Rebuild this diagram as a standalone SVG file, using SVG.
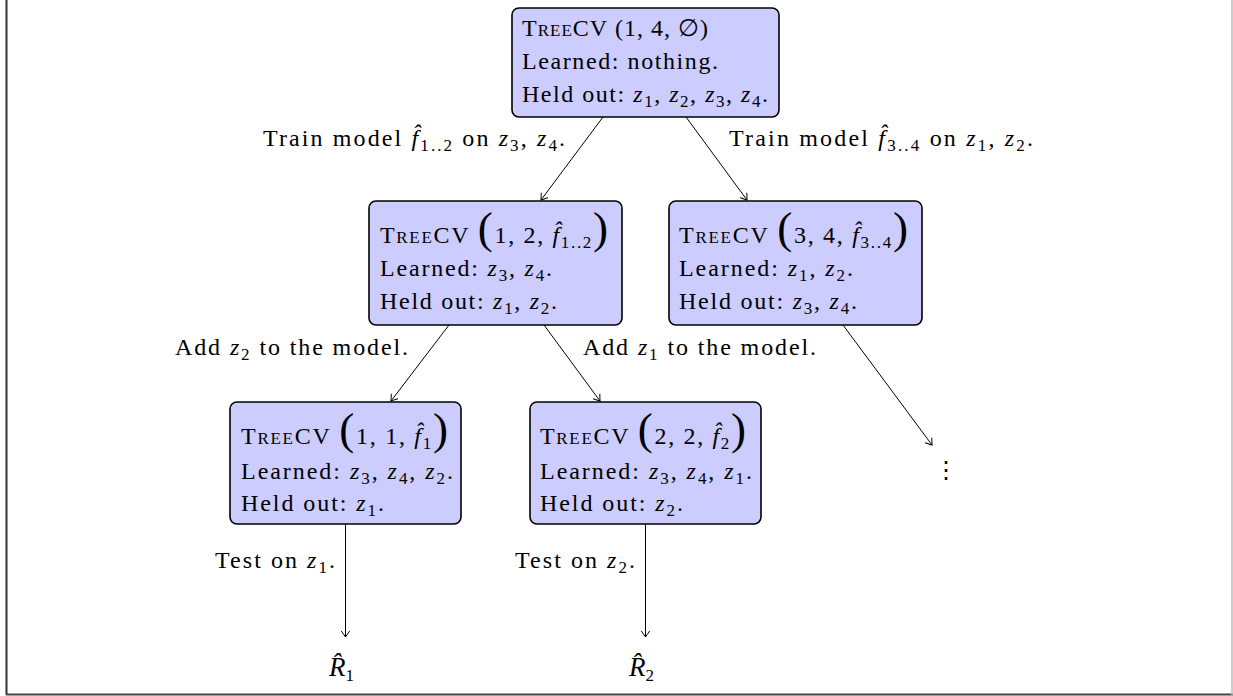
<svg xmlns="http://www.w3.org/2000/svg" width="1233" height="696" viewBox="0 0 1233 696">
<style>
text{font-family:"Liberation Serif","DejaVu Serif",serif;font-size:24px;fill:#000}
.sc{font-variant:small-caps}
.m{font-style:italic}
.s{font-size:17px}
.p{font-size:45px}
.big{font-size:27px}
.box{fill:#ccccff;stroke:#000;stroke-width:1.6}
.edge{fill:none;stroke:#000;stroke-width:1;marker-end:url(#arr)}
.sym{font-family:"DejaVu Serif",serif}
</style>
<defs>
<marker id="arr" markerUnits="userSpaceOnUse" markerWidth="12" markerHeight="12" refX="0" refY="0" viewBox="-7 -6 9 12" orient="auto">
<path d="M-6,-4.2 Q-1.5,-1 0,0 Q-1.5,1 -6,4.2" fill="none" stroke="#000" stroke-width="1"/>
</marker>
</defs>
<rect width="1233" height="696" fill="#fff"/>
<g id="frame">
<line x1="6.5" y1="0" x2="6.5" y2="695" stroke="#333" stroke-width="2"/>
<line x1="6" y1="694.5" x2="1233" y2="694.5" stroke="#444" stroke-width="2"/>
<line x1="1232" y1="0" x2="1232" y2="695" stroke="#bbb" stroke-width="1.5"/>
</g>
<g id="connectors">
<line class="edge" x1="603" y1="117" x2="541" y2="200"/>
<line class="edge" x1="686" y1="117" x2="747" y2="200"/>
<line class="edge" x1="449" y1="325" x2="391" y2="401"/>
<line class="edge" x1="544" y1="325" x2="600" y2="401"/>
<line class="edge" x1="843" y1="325" x2="932" y2="445"/>
<line class="edge" x1="345.5" y1="524" x2="345.5" y2="637"/>
<line class="edge" x1="645.5" y1="524" x2="645.5" y2="637"/>
</g>
<g id="edge-labels">
<text x="263" y="146" textLength="302">Train model <tspan class="m">f̂</tspan><tspan class="s" dy="5">1..2</tspan><tspan dy="-5"> on </tspan><tspan class="m">z</tspan><tspan class="s" dy="5">3</tspan><tspan dy="-5">, </tspan><tspan class="m">z</tspan><tspan class="s" dy="5">4</tspan><tspan dy="-5">.</tspan></text>
<text x="729" y="146" textLength="304">Train model <tspan class="m">f̂</tspan><tspan class="s" dy="5">3..4</tspan><tspan dy="-5"> on </tspan><tspan class="m">z</tspan><tspan class="s" dy="5">1</tspan><tspan dy="-5">, </tspan><tspan class="m">z</tspan><tspan class="s" dy="5">2</tspan><tspan dy="-5">.</tspan></text>
<text x="175" y="355" textLength="233">Add <tspan class="m">z</tspan><tspan class="s" dy="5">2</tspan><tspan dy="-5"> to the model.</tspan></text>
<text x="583" y="355" textLength="233">Add <tspan class="m">z</tspan><tspan class="s" dy="5">1</tspan><tspan dy="-5"> to the model.</tspan></text>
<text x="215" y="568" textLength="120">Test on <tspan class="m">z</tspan><tspan class="s" dy="5">1</tspan><tspan dy="-5">.</tspan></text>
<text x="515" y="568" textLength="120">Test on <tspan class="m">z</tspan><tspan class="s" dy="5">2</tspan><tspan dy="-5">.</tspan></text>
</g>
<g id="n-root">
<rect class="box" x="512" y="8" width="267" height="109" rx="7"/>
<text x="522" y="36" textLength="186"><tspan class="sc">TreeCV</tspan> (1, 4, <tspan class="sym">∅</tspan>)</text>
<text x="522" y="69" textLength="196">Learned: nothing.</text>
<text x="522" y="102" textLength="246">Held out: <tspan class="m">z</tspan><tspan class="s" dy="5">1</tspan><tspan dy="-5">, </tspan><tspan class="m">z</tspan><tspan class="s" dy="5">2</tspan><tspan dy="-5">, </tspan><tspan class="m">z</tspan><tspan class="s" dy="5">3</tspan><tspan dy="-5">, </tspan><tspan class="m">z</tspan><tspan class="s" dy="5">4</tspan><tspan dy="-5">.</tspan></text>
</g>
<g id="n-12">
<rect class="box" x="369" y="201" width="253" height="124" rx="7"/>
<text x="380" y="243" textLength="228"><tspan class="sc">TreeCV</tspan> <tspan class="p">(</tspan>1, 2, <tspan class="m">f̂</tspan><tspan class="s" dy="5">1..2</tspan><tspan class="p" dy="-5">)</tspan></text>
<text x="380" y="276" textLength="172">Learned: <tspan class="m">z</tspan><tspan class="s" dy="5">3</tspan><tspan dy="-5">, </tspan><tspan class="m">z</tspan><tspan class="s" dy="5">4</tspan><tspan dy="-5">.</tspan></text>
<text x="380" y="309" textLength="177">Held out: <tspan class="m">z</tspan><tspan class="s" dy="5">1</tspan><tspan dy="-5">, </tspan><tspan class="m">z</tspan><tspan class="s" dy="5">2</tspan><tspan dy="-5">.</tspan></text>
</g>
<g id="n-34">
<rect class="box" x="669" y="201" width="253" height="124" rx="7"/>
<text x="679" y="243" textLength="229"><tspan class="sc">TreeCV</tspan> <tspan class="p">(</tspan>3, 4, <tspan class="m">f̂</tspan><tspan class="s" dy="5">3..4</tspan><tspan class="p" dy="-5">)</tspan></text>
<text x="679" y="276" textLength="174">Learned: <tspan class="m">z</tspan><tspan class="s" dy="5">1</tspan><tspan dy="-5">, </tspan><tspan class="m">z</tspan><tspan class="s" dy="5">2</tspan><tspan dy="-5">.</tspan></text>
<text x="679" y="309" textLength="178">Held out: <tspan class="m">z</tspan><tspan class="s" dy="5">3</tspan><tspan dy="-5">, </tspan><tspan class="m">z</tspan><tspan class="s" dy="5">4</tspan><tspan dy="-5">.</tspan></text>
</g>
<g id="n-11">
<rect class="box" x="230" y="402" width="231" height="122" rx="7"/>
<text x="241" y="444" textLength="207"><tspan class="sc">TreeCV</tspan> <tspan class="p">(</tspan>1, 1, <tspan class="m">f̂</tspan><tspan class="s" dy="5">1</tspan><tspan class="p" dy="-5">)</tspan></text>
<text x="241" y="479" textLength="212">Learned: <tspan class="m">z</tspan><tspan class="s" dy="5">3</tspan><tspan dy="-5">, </tspan><tspan class="m">z</tspan><tspan class="s" dy="5">4</tspan><tspan dy="-5">, </tspan><tspan class="m">z</tspan><tspan class="s" dy="5">2</tspan><tspan dy="-5">.</tspan></text>
<text x="241" y="511" textLength="143">Held out: <tspan class="m">z</tspan><tspan class="s" dy="5">1</tspan><tspan dy="-5">.</tspan></text>
</g>
<g id="n-22">
<rect class="box" x="530" y="402" width="231" height="122" rx="7"/>
<text x="540" y="444" textLength="206"><tspan class="sc">TreeCV</tspan> <tspan class="p">(</tspan>2, 2, <tspan class="m">f̂</tspan><tspan class="s" dy="5">2</tspan><tspan class="p" dy="-5">)</tspan></text>
<text x="540" y="479" textLength="212">Learned: <tspan class="m">z</tspan><tspan class="s" dy="5">3</tspan><tspan dy="-5">, </tspan><tspan class="m">z</tspan><tspan class="s" dy="5">4</tspan><tspan dy="-5">, </tspan><tspan class="m">z</tspan><tspan class="s" dy="5">1</tspan><tspan dy="-5">.</tspan></text>
<text x="540" y="511" textLength="143">Held out: <tspan class="m">z</tspan><tspan class="s" dy="5">2</tspan><tspan dy="-5">.</tspan></text>
</g>
<g id="n-r1">
<text x="329" y="676"><tspan class="m big">R̂</tspan><tspan class="s" dy="5">1</tspan></text>
</g>
<g id="n-r2">
<text x="629" y="676"><tspan class="m big">R̂</tspan><tspan class="s" dy="5">2</tspan></text>
</g>
<g id="n-dots">
<text x="946" y="478" text-anchor="middle" class="sym" style="font-family:'DejaVu Serif',serif">⋮</text>
</g>
</svg>
